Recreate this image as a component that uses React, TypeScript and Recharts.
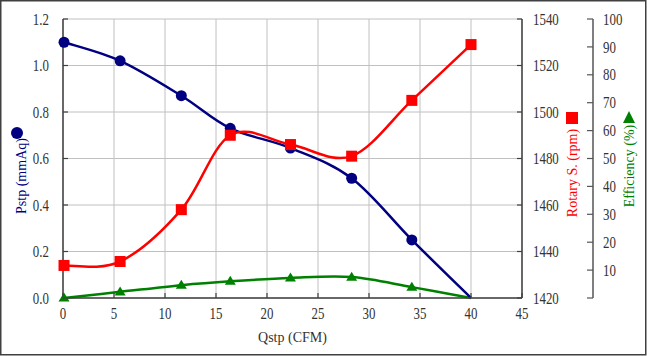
import React from "react";
import { ComposedChart, Line, XAxis, YAxis, CartesianGrid } from "recharts";

const qstp = [0.1, 5.6, 11.6, 16.4, 22.3, 28.3, 34.2, 40.0];
const pstp = [1.1, 1.02, 0.87, 0.73, 0.645, 0.515, 0.25, 0.0];
const rpm = [1434, 1435.7, 1458, 1490, 1486, 1481, 1505, 1529];
const eff = [0, 2.2, 4.6, 6.0, 7.2, 7.5, 3.9, 0];

const xTicks = [0, 5, 10, 15, 20, 25, 30, 35, 40, 45];
const pTicks = [0, 0.2, 0.4, 0.6, 0.8, 1.0, 1.2];
const rTicks = [1420, 1440, 1460, 1480, 1500, 1520, 1540];
const eTicks = [0, 10, 20, 30, 40, 50, 60, 70, 80, 90, 100];

const data = qstp.map((q, i) => ({ q, p: pstp[i], r: rpm[i], e: eff[i] }));

const FONT = "'Liberation Serif', 'Times New Roman', serif";
const TICK_FS = 17;
const SX = 0.76;
const AXIS = "#404040";
const TXT = "#333333";

const L = 63;
const R = 522;
const T = 19;
const B = 298;
const EX = 593;

// Excel-like smoothed line (Catmull-Rom as cubic Bezier)
function smoothCurve(context: any) {
  let pts: number[][] = [];
  return {
    areaStart() {},
    areaEnd() {},
    lineStart() {
      pts = [];
    },
    point(x: number, y: number) {
      pts.push([+x, +y]);
    },
    lineEnd() {
      const n = pts.length;
      if (!n) return;
      context.moveTo(pts[0][0], pts[0][1]);
      for (let i = 0; i < n - 1; i++) {
        const p0 = pts[i - 1] || pts[i];
        const p1 = pts[i];
        const p2 = pts[i + 1];
        const p3 = pts[i + 2] || p2;
        const c1x = p1[0] + (p2[0] - p0[0]) / 6;
        const c1y = p1[1] + (p2[1] - p0[1]) / 6;
        const c2x = p2[0] - (p3[0] - p1[0]) / 6;
        const c2y = p2[1] - (p3[1] - p1[1]) / 6;
        context.bezierCurveTo(c1x, c1y, c2x, c2y, p2[0], p2[1]);
      }
    },
  };
}

const tickText = (x: number, y: number, s: string, anchor: string) => (
  <text
    transform={`translate(${x},${y}) scale(${SX},1)`}
    textAnchor={anchor}
    dominantBaseline="central"
    fontFamily={FONT}
    fontSize={TICK_FS}
    fill={TXT}
  >
    {s}
  </text>
);

const LeftTick = (props: any) => {
  const y = props.y;
  return (
    <g>
      <line x1={L} x2={L + 5} y1={y} y2={y} stroke={AXIS} strokeWidth={1.2} />
      {tickText(L - 14, y, Number(props.payload.value).toFixed(1), "end")}
    </g>
  );
};

const RpmTick = (props: any) => {
  const y = props.y;
  return (
    <g>
      <line x1={R - 5} x2={R} y1={y} y2={y} stroke={AXIS} strokeWidth={1.2} />
      {tickText(R + 11, y, String(props.payload.value), "start")}
    </g>
  );
};

const EffTick = (props: any) => {
  const y = props.y;
  const v = props.payload.value;
  return (
    <g>
      <line x1={EX - 6} x2={EX} y1={y} y2={y} stroke="#555" strokeWidth={1.2} />
      {v !== 0 ? tickText(EX + 10, y, String(v), "start") : null}
    </g>
  );
};

const XTick = (props: any) => {
  const x = props.x;
  return (
    <g>
      <line x1={x} x2={x} y1={B - 5} y2={B} stroke={AXIS} strokeWidth={1.2} />
      {tickText(x, 313, String(props.payload.value), "middle")}
    </g>
  );
};

const last = qstp.length - 1;

const BlueDot = (props: any) => {
  const { cx, cy, index } = props;
  if (index === last) return <g key={`b${index}`} />;
  return <circle key={`b${index}`} cx={cx} cy={cy} r={5.5} fill="#000080" />;
};

const RedDot = (props: any) => {
  const { cx, cy, index } = props;
  return <rect key={`r${index}`} x={cx - 5.5} y={cy - 5.5} width={11} height={11} fill="#ff0000" />;
};

const GreenDot = (props: any) => {
  const { cx, cy, index } = props;
  if (index === last) return <g key={`g${index}`} />;
  const h = 9;
  const w = 11;
  return (
    <polygon
      key={`g${index}`}
      points={`${cx},${cy - h * 0.6} ${cx - w / 2},${cy + h * 0.4} ${cx + w / 2},${cy + h * 0.4}`}
      fill="#008000"
    />
  );
};

export default function App() {
  return (
    <div style={{ position: "absolute", left: 0, top: 0, width: 647, height: 356, background: "#fff" }}>
      <ComposedChart
        width={647}
        height={356}
        data={data}
        margin={{ top: T, right: 0, bottom: 0, left: 0 }}
      >
        <CartesianGrid yAxisId="a" stroke="#c0c0c0" strokeWidth={1} />
        <XAxis
          dataKey="q"
          type="number"
          domain={[0, 45]}
          ticks={xTicks}
          height={356 - B}
          tickLine={false}
          axisLine={{ stroke: AXIS, strokeWidth: 1.5 }}
          tick={<XTick />}
          interval={0}
        />
        <YAxis
          yAxisId="a"
          orientation="left"
          domain={[0, 1.2]}
          ticks={pTicks}
          width={L}
          tickLine={false}
          axisLine={{ stroke: AXIS, strokeWidth: 1.5 }}
          tick={<LeftTick />}
          interval={0}
        />
        <YAxis
          yAxisId="b"
          orientation="right"
          domain={[1420, 1540]}
          ticks={rTicks}
          width={EX - R}
          tickLine={false}
          axisLine={{ stroke: AXIS, strokeWidth: 1.5 }}
          tick={<RpmTick />}
          interval={0}
        />
        <YAxis
          yAxisId="c"
          orientation="right"
          domain={[0, 100]}
          ticks={eTicks}
          width={647 - EX}
          tickLine={false}
          axisLine={{ stroke: "#555", strokeWidth: 1.5 }}
          tick={<EffTick />}
          interval={0}
        />
        <Line
          yAxisId="c"
          dataKey="e"
          type={smoothCurve as any}
          stroke="#008000"
          strokeWidth={2.5}
          dot={GreenDot}
          isAnimationActive={false}
        />
        <Line
          yAxisId="a"
          dataKey="p"
          type={smoothCurve as any}
          stroke="#000080"
          strokeWidth={2.5}
          dot={BlueDot}
          isAnimationActive={false}
        />
        <Line
          yAxisId="b"
          dataKey="r"
          type={smoothCurve as any}
          stroke="#ff0000"
          strokeWidth={2.5}
          dot={RedDot}
          isAnimationActive={false}
        />
      </ComposedChart>
      <svg
        width={647}
        height={356}
        style={{ position: "absolute", left: 0, top: 0, pointerEvents: "none" }}
      >
        <rect x={0.75} y={0.75} width={645} height={354} fill="none" stroke={AXIS} strokeWidth={1.5} />
        <text x={(L + R) / 2} y={337} textAnchor="middle" dominantBaseline="central" fontFamily={FONT} fontSize={14} fill={TXT}>
          Qstp (CFM)
        </text>
        <circle cx={17} cy={133} r={6} fill="#000080" />
        <text transform="translate(21,176) rotate(-90)" textAnchor="middle" dominantBaseline="central" fontFamily={FONT} fontSize={14} fill="#000080">
          Pstp (mmAq)
        </text>
        <rect x={566} y={112} width={12} height={12} fill="#ff0000" />
        <text transform="translate(572,173) rotate(-90)" textAnchor="middle" dominantBaseline="central" fontFamily={FONT} fontSize={14} fill="#ff0000">
          Rotary S. (rpm)
        </text>
        <polygon points="629,111 623,123 635,123" fill="#008000" />
        <text transform="translate(629,166) rotate(-90)" textAnchor="middle" dominantBaseline="central" fontFamily={FONT} fontSize={14} fill="#008000">
          Efficiency (%)
        </text>
      </svg>
    </div>
  );
}
